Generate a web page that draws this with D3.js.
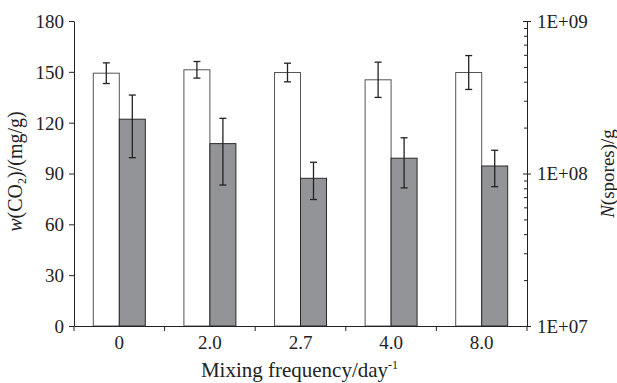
<!DOCTYPE html>
<html>
<head>
<meta charset="utf-8">
<script src="https://cdn.jsdelivr.net/npm/d3@7/dist/d3.min.js"></script>
<style>
  html, body { margin: 0; padding: 0; background: #fff; }
  svg text { font-family: "Liberation Serif", "Times New Roman", serif; fill: #222; }
</style>
</head>
<body>
<div id="chart"></div>
<script>
// data
const categories = ['0', '2.0', '2.7', '4.0', '8.0'];
const co2Values  = [149.2, 151.2, 149.6, 145.3, 149.6];   // mg/g, left axis
const co2Errors  = [6.1, 4.9, 5.5, 10.4, 10.0];
const sporeValues = [2.27e8, 1.57e8, 9.3e7, 1.26e8, 1.12e8]; // spores/g, right log axis
const sporeErrors = [1.0e8, 0.73e8, 2.55e7, 0.455e8, 0.30e8];
const leftTicks  = [0, 30, 60, 90, 120, 150, 180];
const rightMajor = [1e7, 1e8, 1e9];
const rightLabels = ['1E+07', '1E+08', '1E+09'];

const width = 617, height = 383;
const margin = { top: 21, right: 90, bottom: 57, left: 74 };
const innerW = width - margin.left - margin.right;
const innerH = height - margin.top - margin.bottom;

const svg = d3.select('#chart').append('svg')
  .attr('width', width)
  .attr('height', height);

const g = svg.append('g')
  .attr('transform', `translate(${margin.left},${margin.top})`);

const x  = d3.scaleBand().domain(categories).range([0, innerW]);
const yL = d3.scaleLinear().domain([0, 180]).range([innerH, 0]);
const yR = d3.scaleLog().domain([1e7, 1e9]).range([innerH, 0]);

const barW = 26;
const capW = 7;

// bars
const groups = g.selectAll('g.grp')
  .data(categories.map((c, i) => ({
    c, co2: co2Values[i], co2e: co2Errors[i], sp: sporeValues[i], spe: sporeErrors[i]
  })))
  .enter().append('g').attr('class', 'grp')
  .attr('transform', d => `translate(${x(d.c) + x.bandwidth() / 2},0)`);

groups.append('rect')
  .attr('x', -barW)
  .attr('y', d => yL(d.co2))
  .attr('width', barW)
  .attr('height', d => innerH - yL(d.co2))
  .attr('fill', '#fff')
  .attr('stroke', '#555')
  .attr('stroke-width', 1);

groups.append('rect')
  .attr('x', 0)
  .attr('y', d => yR(d.sp))
  .attr('width', barW)
  .attr('height', d => innerH - yR(d.sp))
  .attr('fill', '#939498')
  .attr('stroke', '#2a2a2a')
  .attr('stroke-width', 1);

function errorBar(sel, cx, top, bottom) {
  const eg = sel.append('g').attr('stroke', '#222').attr('stroke-width', 1.3);
  eg.append('line').attr('x1', cx).attr('x2', cx).attr('y1', top).attr('y2', bottom);
  eg.append('line').attr('x1', cx - capW / 2).attr('x2', cx + capW / 2).attr('y1', top).attr('y2', top);
  eg.append('line').attr('x1', cx - capW / 2).attr('x2', cx + capW / 2).attr('y1', bottom).attr('y2', bottom);
}

groups.each(function (d) {
  const s = d3.select(this);
  errorBar(s, -barW / 2, yL(d.co2 + d.co2e), yL(d.co2 - d.co2e));
  errorBar(s, barW / 2, yR(d.sp + d.spe), yR(d.sp - d.spe));
});

// left axis
const leftAxis = g.append('g')
  .call(d3.axisLeft(yL).tickValues(leftTicks).tickSize(5).tickSizeOuter(0).tickPadding(5));
leftAxis.selectAll('text').style('font-size', '19px').attr('dy', '0.34em');

// right axis, minor ticks inside
const minorTicks = yR.ticks(30).filter(v => !rightMajor.includes(v));
g.append('g')
  .attr('transform', `translate(${innerW},0)`)
  .call(d3.axisLeft(yR).tickValues(minorTicks).tickSize(3).tickSizeOuter(0).tickFormat(''))
  .select('.domain').remove();

const rightAxis = g.append('g')
  .attr('transform', `translate(${innerW},0)`)
  .call(d3.axisRight(yR).tickValues(rightMajor).tickSize(4).tickSizeOuter(0).tickPadding(6)
    .tickFormat((v, i) => rightLabels[i]));
rightAxis.selectAll('.tick line').attr('x1', -4);
rightAxis.selectAll('text').style('font-size', '19px').attr('dy', '0.34em');

// bottom axis
const bottomAxis = g.append('g')
  .attr('transform', `translate(0,${innerH})`)
  .call(d3.axisBottom(x).tickSize(0).tickPadding(10));
bottomAxis.selectAll('text').style('font-size', '19px');
const bounds = categories.map(c => x(c)).concat([x.range()[1]]);
bottomAxis.selectAll('line.bound')
  .data(bounds)
  .enter().append('line')
  .attr('class', 'bound')
  .attr('x1', d => d).attr('x2', d => d)
  .attr('y1', 0).attr('y2', 5)
  .attr('stroke', '#222');

g.selectAll('.domain').attr('stroke', '#222');
g.selectAll('.tick line').attr('stroke', '#222');

// titles
const xt = g.append('text')
  .attr('x', innerW / 2 - 1)
  .attr('y', innerH + 51)
  .attr('text-anchor', 'middle')
  .style('font-size', '21px');
xt.append('tspan').text('Mixing frequency/day');
xt.append('tspan').attr('dy', -8).style('font-size', '12px').text('-1');

const yt = g.append('text')
  .attr('transform', 'rotate(-90)')
  .attr('x', -innerH / 2 + 2)
  .attr('y', -52)
  .attr('text-anchor', 'middle')
  .style('font-size', '20px');
yt.append('tspan').style('font-style', 'italic').text('w');
yt.append('tspan').text('(CO');
yt.append('tspan').attr('dy', 4).style('font-size', '12px').text('2');
yt.append('tspan').attr('dy', -4).text(')/(mg/g)');

const rt = g.append('text')
  .attr('transform', 'rotate(-90)')
  .attr('x', -innerH / 2)
  .attr('y', innerW + 87)
  .attr('text-anchor', 'middle')
  .style('font-size', '19px');
rt.append('tspan').style('font-style', 'italic').text('N');
rt.append('tspan').text('(spores)/g');
</script>
</body>
</html>
